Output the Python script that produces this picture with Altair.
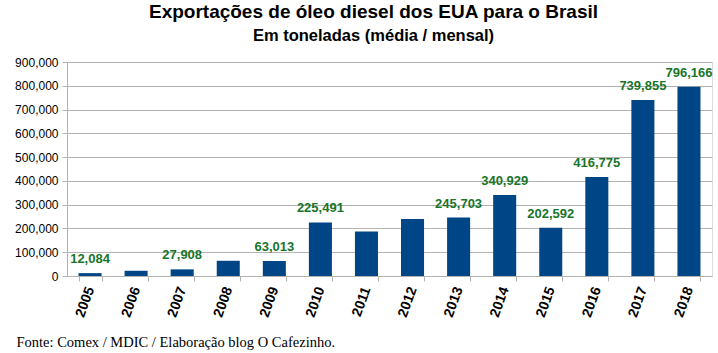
import altair as alt
import pandas as pd

years = ["2005", "2006", "2007", "2008", "2009", "2010", "2011", "2012",
         "2013", "2014", "2015", "2016", "2017", "2018"]
values = [12084, 22000, 27908, 64000, 63013, 225491, 187000, 240000,
          245703, 340929, 202592, 416775, 739855, 796166]
show_label = [True, False, True, False, True, True, False, False,
              True, True, True, True, True, True]
y_ticks = [0, 100000, 200000, 300000, 400000, 500000, 600000, 700000, 800000, 900000]

df = pd.DataFrame({"ano": years, "valor": values, "show": show_label})
df["rotulo"] = [f"{v:,}" if s else "" for v, s in zip(values, show_label)]

x_enc = alt.X(
    "ano:N",
    sort=years,
    scale=alt.Scale(paddingInner=0.5, paddingOuter=0.25),
    axis=alt.Axis(
        title="Fonte: Comex / MDIC / Elaboração blog O Cafezinho.",
        titleFont="Liberation Serif",
        titleFontSize=14.5,
        titleFontWeight="normal",
        titleColor="#000000",
        titleAnchor="start",
        titleAlign="left",
        titleBaseline="alphabetic",
        titleX=-51,
        titleY=70,
        labelAngle=-70,
        labelAlign="right",
        labelBaseline="middle",
        labelFont="Liberation Sans",
        labelFontWeight="bold",
        labelFontSize=14,
        labelColor="#000000",
        labelPadding=6,
        tickBand="extent",
        tickColor="#b3b3b3",
        tickSize=5,
        domainColor="#b3b3b3",
        grid=False,
    ),
)

y_enc = alt.Y(
    "valor:Q",
    scale=alt.Scale(domain=[0, 900000], nice=False),
    axis=alt.Axis(
        title=None,
        values=y_ticks,
        format=",.0f",
        labelFont="Liberation Sans",
        labelFontSize=12,
        labelColor="#000000",
        labelPadding=4,
        tickColor="#b3b3b3",
        tickSize=5,
        domainColor="#b3b3b3",
        gridColor="#b3b3b3",
    ),
)

bars = alt.Chart(df).mark_bar(color="#004586").encode(x=x_enc, y=y_enc)

labels = alt.Chart(df).mark_text(
    color="#18752a",
    font="Liberation Sans",
    fontWeight="bold",
    fontSize=13,
    baseline="bottom",
    dy=-7,
).encode(x=x_enc, y=y_enc, text="rotulo:N")

chart = alt.layer(bars, labels).properties(
    width=645,
    height=214,
    autosize=alt.AutoSizeParams(type="none"),
    padding={"left": 67, "top": 62, "right": 6, "bottom": 77},
    title=alt.TitleParams(
        text="Exportações de óleo diesel dos EUA para o Brasil",
        subtitle="Em toneladas (média / mensal)",
        font="Liberation Sans",
        fontSize=19,
        fontWeight="bold",
        color="#000000",
        subtitleFont="Liberation Sans",
        subtitleFontSize=16.5,
        subtitleFontWeight="bold",
        subtitleColor="#000000",
        subtitlePadding=6,
        anchor="middle",
        dx=-16,
        offset=12,
    ),
).configure_view(stroke="#b3b3b3").configure(background="white")

chart.save("out.html", embed_options={"renderer": "svg", "actions": False})
